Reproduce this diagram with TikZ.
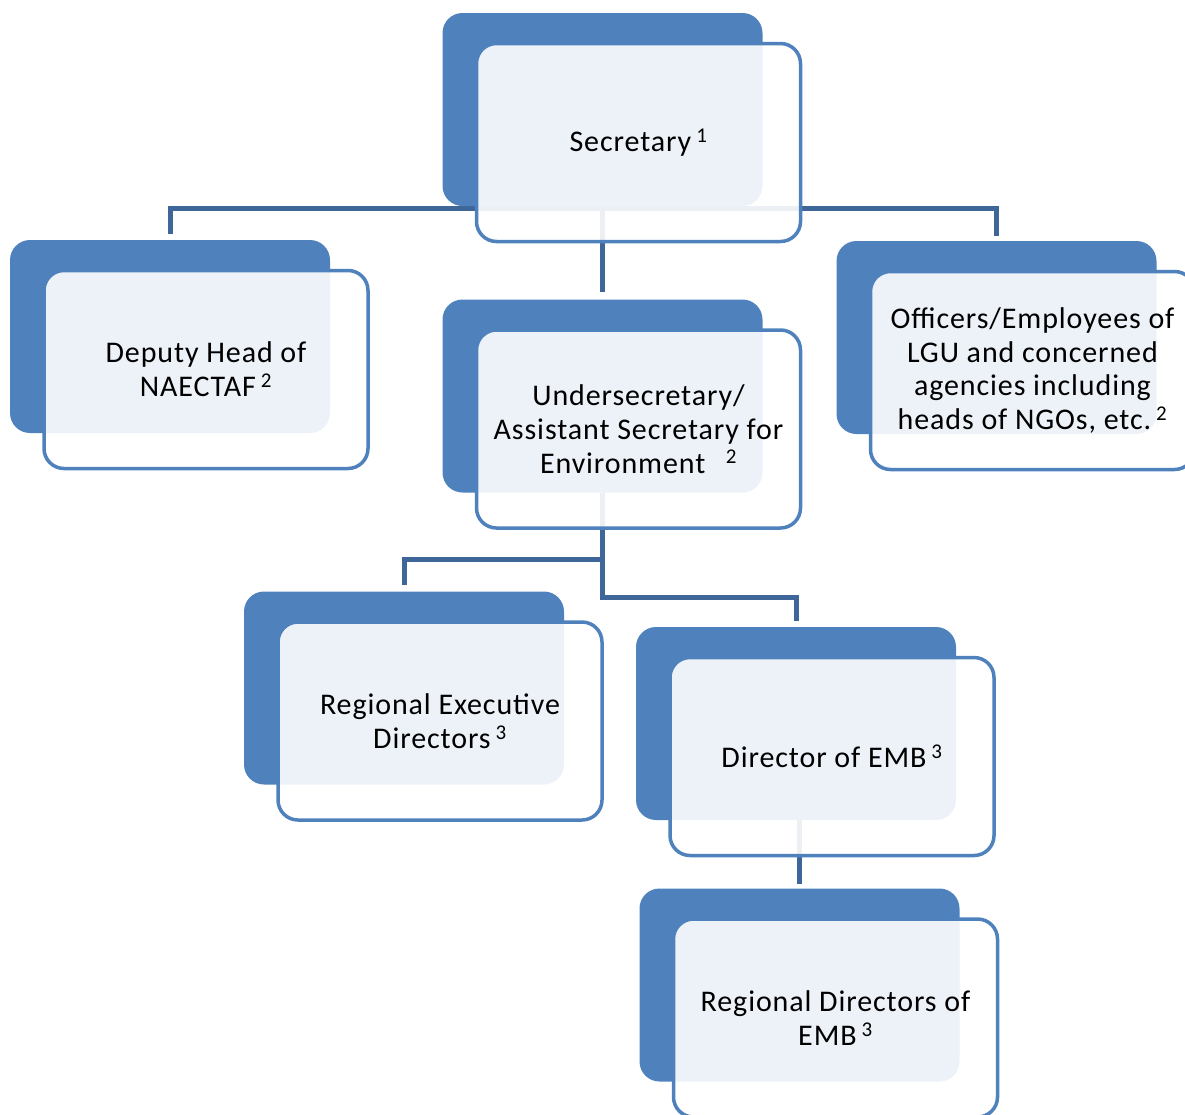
\documentclass[tikz,border=0pt]{standalone}
\usepackage{fontspec}
\setmainfont[LetterSpace=3]{Carlito}
\usetikzlibrary{calc}
\definecolor{boxblue}{RGB}{79,129,189}
\definecolor{linkblue}{RGB}{62,102,153}
\pgfdeclarelayer{background}
\pgfsetlayers{background,main}
\tikzset{
    backbox/.style={rectangle,rounded corners=20,fill=boxblue,
        minimum width=320,minimum height=193,inner sep=0},
    frontbox/.style={rectangle,rounded corners=20,draw=boxblue,line width=3.5,
        fill=white,fill opacity=0.9,text opacity=1,
        minimum width=324,minimum height=198,inner sep=0,align=center,
        font=\fontsize{30}{33.7}\selectfont},
    link/.style={draw=linkblue,line width=5},
}
\newcommand{\Post}[4]{% name,cx,cy,text (cx,cy = centre of the dark box)
    \node[backbox] (#1b) at (#2,#3) {};
    \node[frontbox] (#1) at ([shift={(36,33)}]#1b.center) {#4};
}
\newcommand{\Fn}[1]{\,\textsuperscript{#1}}

\begin{document}
\begin{tikzpicture}[x=1pt,y=-1pt]
    \useasboundingbox (0,0) rectangle (1185,1114);

    \Post{sec}{602.5}{109.5}{Secretary\Fn{1}};
    \Post{dep}{170}{336.5}{Deputy Head of\\NAECTAF\Fn{2}};
    \Post{off}{996.5}{337.5}{Officers/Employees of\\LGU and concerned\\agencies including\\heads of NGOs, etc.\Fn{2}};
    \Post{und}{602.5}{396}{Undersecretary/\\Assistant Secretary for\\Environment\ \ \Fn{2}};
    \Post{red}{404}{688}{Regional Executive\\Directors\Fn{3}};
    \Post{dir}{796}{723.5}{Director of EMB\Fn{3}};
    \Post{rde}{799.5}{985}{Regional Directors of\\EMB\Fn{3}};

    \begin{pgfonlayer}{background}
        \draw[link] ([yshift=6]depb.north) |- ($(secb.south)+(0,2)$) -| ([yshift=5]offb.north);
        \draw[link] (secb.south) -- ([yshift=7]undb.north);
        \draw[link] (undb.south) -- ++(0,67) -| ([yshift=6]redb.north);
        \draw[link] (undb.south) -- ++(0,105) -| ([yshift=6]dirb.north);
        \draw[link] (rdeb.north |- dirb.south) -- ([yshift=4]rdeb.north);
    \end{pgfonlayer}
\end{tikzpicture}
\end{document}
